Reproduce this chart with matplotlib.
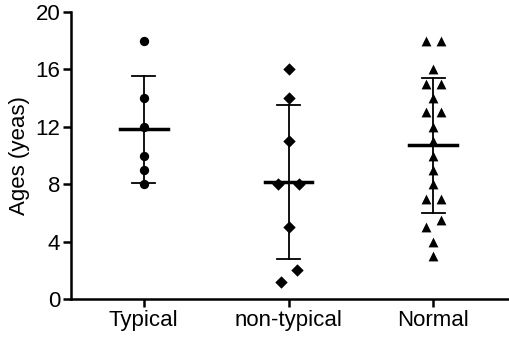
import numpy as np
import matplotlib.pyplot as plt

plt.rcParams['font.family'] = ['Liberation Sans', 'DejaVu Sans']

groups = ['Typical', 'non-typical', 'Normal']
typical = [18, 14, 12, 10, 9, 8]
non_typical = [16, 14, 11, 8, 8, 5, 2, 1.2]
normal = [18, 18, 16, 15, 15, 14, 13, 13, 12, 11, 10, 9, 8, 7, 7, 5.5, 5, 4, 3]

# horizontal spread for overlapping points
typical_dx = [0, 0, 0, 0, 0, 0]
non_typical_dx = [0, 0, 0, -0.07, 0.07, 0, 0.06, -0.05]
normal_dx = [-0.05, 0.05, 0, -0.05, 0.05, 0, -0.05, 0.05, 0, 0, 0, 0, 0,
             -0.05, 0.05, 0.05, -0.05, 0, 0]

series = [typical, non_typical, normal]
offsets = [typical_dx, non_typical_dx, normal_dx]
markers = ['o', 'D', '^']
sizes = [45, 40, 50]

fig = plt.figure(figsize=(5.1, 3.4), dpi=100)
ax = fig.add_axes([0.14, 0.12, 0.86, 0.845])

for i, (vals, dx) in enumerate(zip(series, offsets)):
    vals = np.array(vals)
    x = i + np.array(dx)
    ax.scatter(x, vals, marker=markers[i], s=sizes[i], color='black',
               linewidths=0, zorder=3)
    m = vals.mean()
    sd = vals.std(ddof=1)
    ax.plot([i - 0.165, i + 0.165], [m, m], color='black', lw=2.5, zorder=4)
    ax.plot([i, i], [m - sd, m + sd], color='black', lw=1.3, zorder=2)
    for y in (m - sd, m + sd):
        ax.plot([i - 0.08, i + 0.08], [y, y], color='black', lw=1.3, zorder=2)

ax.set_xlim(-0.5, 2.53)
ax.set_ylim(0, 20)
ax.set_yticks([0, 4, 8, 12, 16, 20])
ax.set_xticks(range(3))
ax.set_xticklabels(groups)
ax.set_ylabel('Ages (yeas)', fontsize=16, labelpad=4)
ax.tick_params(labelsize=16, width=1.8, length=6, color='black', pad=2)
for s in ['top', 'right']:
    ax.spines[s].set_visible(False)
for s in ['left', 'bottom']:
    ax.spines[s].set_linewidth(1.8)
ax.spines['left'].set_bounds(0, 20)

fig.savefig('out.png', dpi=100)
